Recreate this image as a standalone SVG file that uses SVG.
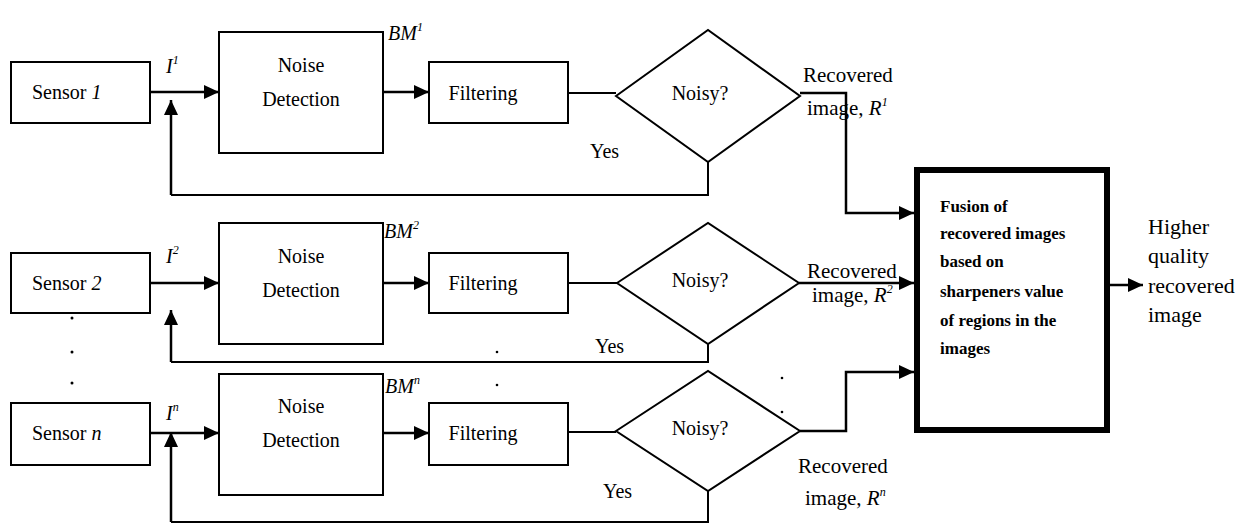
<svg xmlns="http://www.w3.org/2000/svg" width="1239" height="525" viewBox="0 0 1239 525">
<defs>
<style>
.box{fill:#fff;stroke:#000;stroke-width:2}
.dia{fill:#fff;stroke:#000;stroke-width:2}
.ln{fill:none;stroke:#000;stroke-width:2}
.ar{fill:none;stroke:#000;stroke-width:2.5;marker-end:url(#ah)}
text{font-family:'Liberation Serif', 'Times New Roman', serif;fill:#000}
.t{font-size:20px}
.r{font-size:21px}
.i{font-style:italic}
.sup{font-size:12px;font-style:italic}
.fb{font-size:17px;font-weight:bold}
.out{font-size:22px}
.dot{fill:#000}
</style>
<marker id="ah" markerUnits="userSpaceOnUse" markerWidth="16" markerHeight="16" refX="15" refY="7" orient="auto">
<path d="M0,0 L15,7 L0,14 z" fill="#000"/>
</marker>
</defs>
<rect width="1239" height="525" fill="#fff"/>

<g id="connectors">
<line class="ar" x1="150" y1="92" x2="219" y2="92"/>
<line class="ar" x1="383" y1="92" x2="429" y2="92"/>
<line class="ln" x1="568" y1="93" x2="616" y2="93"/>
<polyline class="ln" points="708,162 708,195 171,195"/>
<line class="ar" x1="171" y1="195" x2="171" y2="100"/>
<polyline class="ar" points="800,93 846,93 846,213 914,213"/>
<line class="ar" x1="150" y1="283" x2="219" y2="283"/>
<line class="ar" x1="383" y1="283" x2="429" y2="283"/>
<line class="ln" x1="568" y1="283" x2="617" y2="283"/>
<polyline class="ln" points="708,344 708,362 171,362"/>
<line class="ar" x1="171" y1="362" x2="171" y2="310"/>
<line class="ar" x1="799" y1="283" x2="914" y2="283"/>
<line class="ar" x1="150" y1="433" x2="219" y2="433"/>
<line class="ar" x1="383" y1="433" x2="429" y2="433"/>
<line class="ln" x1="568" y1="432" x2="616" y2="432"/>
<polyline class="ln" points="708,491 708,522 171,522"/>
<line class="ar" x1="171" y1="522" x2="171" y2="432"/>
<polyline class="ar" points="800,431 846,431 846,372 914,372"/>
<line class="ar" x1="1110" y1="285" x2="1143" y2="285"/>
</g>

<g id="sensor1"><rect class="box" x="11" y="62" width="139" height="61"/><text class="t" x="32" y="99">Sensor <tspan class="i">1</tspan></text></g>
<g id="nd1"><rect class="box" x="219" y="32" width="164" height="121"/><text class="t" x="301" y="72" text-anchor="middle">Noise</text><text class="t" x="301" y="106" text-anchor="middle">Detection</text></g>
<g id="filt1"><rect class="box" x="429" y="62" width="139" height="61"/><text class="t" x="483" y="100" text-anchor="middle">Filtering</text></g>
<g id="noisy1"><polygon class="dia" points="616,96 708,30 800,96 708,162"/><text class="t" x="700" y="100" text-anchor="middle">Noisy?</text></g>

<g id="sensor2"><rect class="box" x="11" y="253" width="139" height="60"/><text class="t" x="32" y="290">Sensor <tspan class="i">2</tspan></text></g>
<g id="nd2"><rect class="box" x="219" y="223" width="164" height="121"/><text class="t" x="301" y="263" text-anchor="middle">Noise</text><text class="t" x="301" y="297" text-anchor="middle">Detection</text></g>
<g id="filt2"><rect class="box" x="429" y="253" width="139" height="60"/><text class="t" x="483" y="290" text-anchor="middle">Filtering</text></g>
<g id="noisy2"><polygon class="dia" points="617,283 708,223 799,283 708,344"/><text class="t" x="700" y="287" text-anchor="middle">Noisy?</text></g>

<g id="sensorn"><rect class="box" x="11" y="403" width="139" height="62"/><text class="t" x="32" y="440">Sensor <tspan class="i">n</tspan></text></g>
<g id="ndn"><rect class="box" x="219" y="374" width="164" height="121"/><text class="t" x="301" y="413" text-anchor="middle">Noise</text><text class="t" x="301" y="447" text-anchor="middle">Detection</text></g>
<g id="filtn"><rect class="box" x="429" y="403" width="139" height="62"/><text class="t" x="483" y="440" text-anchor="middle">Filtering</text></g>
<g id="noisyn"><polygon class="dia" points="616,431 708,371 800,431 708,491"/><text class="t" x="700" y="435" text-anchor="middle">Noisy?</text></g>

<g id="fusion"><rect x="917" y="170" width="190" height="260" fill="#fff" stroke="#000" stroke-width="6"/>
<text class="fb" x="940" y="212">Fusion of</text>
<text class="fb" x="940" y="239">recovered images</text>
<text class="fb" x="940" y="267">based on</text>
<text class="fb" x="940" y="297">sharpeners value</text>
<text class="fb" x="940" y="326">of regions in the</text>
<text class="fb" x="940" y="354">images</text>
</g>

<g id="labels">
<text class="t i" x="166" y="73">I<tspan class="sup" dy="-9">1</tspan></text>
<text class="t i" x="166" y="263">I<tspan class="sup" dy="-9">2</tspan></text>
<text class="t i" x="166" y="420">I<tspan class="sup" dy="-9">n</tspan></text>
<text class="t i" x="388" y="40">BM<tspan class="sup" dy="-9">1</tspan></text>
<text class="t i" x="384" y="238">BM<tspan class="sup" dy="-9">2</tspan></text>
<text class="t i" x="385" y="393">BM<tspan class="sup" dy="-9">n</tspan></text>
<text class="r" x="803" y="82">Recovered</text>
<text class="r" x="807" y="115">image, <tspan class="i">R</tspan><tspan class="sup" dy="-9">1</tspan></text>
<text class="r" x="807" y="278">Recovered</text>
<text class="r" x="812" y="302">image, <tspan class="i">R</tspan><tspan class="sup" dy="-9">2</tspan></text>
<text class="r" x="798" y="473">Recovered</text>
<text class="r" x="805" y="505">image, <tspan class="i">R</tspan><tspan class="sup" dy="-9">n</tspan></text>
<text class="t" x="590" y="158">Yes</text>
<text class="t" x="595" y="353">Yes</text>
<text class="t" x="603" y="498">Yes</text>
<text class="out" x="1148" y="234">Higher</text>
<text class="out" x="1148" y="263">quality</text>
<text class="out" x="1148" y="293">recovered</text>
<text class="out" x="1148" y="322">image</text>
</g>

<g id="dots">
<circle class="dot" cx="72" cy="318" r="1.5"/>
<circle class="dot" cx="72" cy="352" r="1.5"/>
<circle class="dot" cx="72" cy="383" r="1.5"/>
<circle class="dot" cx="497" cy="352" r="1.3"/>
<circle class="dot" cx="497" cy="385" r="1.3"/>
<circle class="dot" cx="782" cy="378" r="1.3"/>
<circle class="dot" cx="782" cy="412" r="1.3"/>
</g>
</svg>
